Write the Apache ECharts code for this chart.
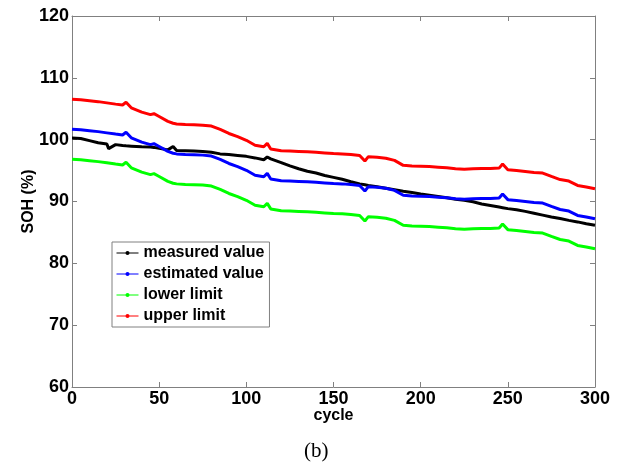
<!DOCTYPE html>
<html>
<head>
<meta charset="utf-8">
<script src="https://cdn.jsdelivr.net/npm/echarts@6/dist/echarts.min.js"></script>
<style>
  html, body { margin: 0; padding: 0; background: #fff; }
  #chart { width: 624px; height: 464px; }
</style>
</head>
<body>
<div id="chart"></div>
<script>
// Cycle numbers at which SOH was sampled
const cycles = [0,5,10,15,20,21,25,29,31,34,40,45,47,50,55,58,60,65,70,75,80,85,90,95,100,105,110,112,114,120,125,130,135,140,145,150,155,160,165,168,170,175,180,185,190,195,200,205,210,215,220,225,230,235,240,245,247,250,255,260,265,270,275,280,285,290,295,300];

// Measured SOH (%)
const measured = [100.25,100.2,99.85,99.5,99.3,98.55,99.2,99.05,99.0,98.95,98.85,98.8,98.75,98.6,98.35,98.9,98.25,98.2,98.15,98.1,97.95,97.7,97.6,97.45,97.3,97.05,96.75,97.2,96.9,96.3,95.75,95.3,94.9,94.6,94.2,93.9,93.6,93.2,92.85,92.7,92.6,92.4,92.15,91.9,91.65,91.45,91.2,91.0,90.8,90.6,90.35,90.2,89.95,89.6,89.35,89.1,89.0,88.85,88.65,88.4,88.1,87.8,87.5,87.25,86.95,86.7,86.4,86.15];

// Estimated SOH (%)
const estimated = [101.7,101.6,101.45,101.3,101.1,101.05,100.9,100.75,101.2,100.3,99.6,99.2,99.35,98.9,98.1,97.8,97.7,97.6,97.55,97.5,97.35,96.8,96.15,95.65,95.05,94.25,94.0,94.55,93.65,93.35,93.3,93.25,93.2,93.1,93.0,92.9,92.85,92.75,92.6,91.7,92.4,92.3,92.15,91.8,91.0,90.9,90.85,90.8,90.7,90.6,90.45,90.35,90.45,90.5,90.5,90.55,91.2,90.3,90.15,90.0,89.85,89.75,89.2,88.7,88.45,87.75,87.5,87.2];

// Lower bound of the estimate (%)
const lowerLimit = [96.85,96.75,96.6,96.45,96.25,96.2,96.05,95.9,96.35,95.45,94.75,94.35,94.5,94.05,93.25,92.95,92.85,92.75,92.7,92.65,92.5,91.95,91.3,90.8,90.2,89.4,89.15,89.7,88.8,88.5,88.45,88.4,88.35,88.25,88.15,88.05,88.0,87.9,87.75,86.85,87.55,87.45,87.3,86.95,86.15,86.05,86.0,85.95,85.85,85.75,85.6,85.5,85.6,85.65,85.65,85.7,86.35,85.45,85.3,85.15,85.0,84.9,84.35,83.85,83.6,82.9,82.65,82.35];

// Upper bound of the estimate (%)
const upperLimit = [106.55,106.45,106.3,106.15,105.95,105.9,105.75,105.6,106.05,105.15,104.45,104.05,104.2,103.75,102.95,102.65,102.55,102.45,102.4,102.35,102.2,101.65,101.0,100.5,99.9,99.1,98.85,99.4,98.5,98.2,98.15,98.1,98.05,97.95,97.85,97.75,97.7,97.6,97.45,96.55,97.25,97.15,97.0,96.65,95.85,95.75,95.7,95.65,95.55,95.45,95.3,95.2,95.3,95.35,95.35,95.4,96.05,95.15,95.0,94.85,94.7,94.6,94.05,93.55,93.3,92.6,92.35,92.05];

const seriesNames = ['measured value', 'estimated value', 'lower limit', 'upper limit'];
const seriesColors = ['#000000', '#0000ff', '#00ff00', '#ff0000'];
const seriesValues = [measured, estimated, lowerLimit, upperLimit];

const xTicks = { min: 0, max: 300, interval: 50 };
const yTicks = { min: 60, max: 120, interval: 10 };

const sans = 'Liberation Sans, Arial, sans-serif';
const frameColor = '#808080';

const chart = echarts.init(document.getElementById('chart'), null, { renderer: 'canvas' });

const baseAxis = {
  axisLine: { show: true, onZero: false, lineStyle: { color: frameColor, width: 1 } },
  axisTick: { show: true, inside: true, length: 5, lineStyle: { color: frameColor } },
  splitLine: { show: false }
};

chart.setOption({
  animation: false,
  backgroundColor: '#ffffff',
  grid: { left: 72, right: 29, top: 16, bottom: 77, containLabel: false },
  title: {
    text: '(b)',
    left: 299, top: 436,
    textStyle: { fontFamily: 'Liberation Serif, Times New Roman, serif', fontSize: 21, fontWeight: 'normal', color: '#000' }
  },
  legend: {
    orient: 'vertical',
    left: 112, top: 242,
    data: seriesNames,
    backgroundColor: '#fff',
    borderColor: frameColor,
    borderWidth: 1,
    padding: [2, 5, 2, 4],
    itemGap: 3,
    itemWidth: 22,
    itemHeight: 5,
    itemTextGap: 2,
    lineStyle: { width: 1 },
    textStyle: { fontFamily: sans, fontSize: 16, fontWeight: 'bold', lineHeight: 18, color: '#000' }
  },
  xAxis: [
    Object.assign({}, baseAxis, {
      type: 'value', position: 'bottom',
      min: xTicks.min, max: xTicks.max, interval: xTicks.interval,
      name: 'cycle', nameLocation: 'middle', nameGap: 21, nameMoveOverlap: false,
      nameTextStyle: { fontFamily: sans, fontSize: 16, fontWeight: 'bold', color: '#000' },
      axisLabel: { margin: 3, fontFamily: sans, fontSize: 18, fontWeight: 'bold', color: '#000' }
    }),
    Object.assign({}, baseAxis, {
      type: 'value', position: 'top',
      min: xTicks.min, max: xTicks.max, interval: xTicks.interval,
      axisLabel: { show: false }
    })
  ],
  yAxis: [
    Object.assign({}, baseAxis, {
      type: 'value', position: 'left',
      min: yTicks.min, max: yTicks.max, interval: yTicks.interval,
      name: 'SOH (%)', nameLocation: 'middle', nameGap: 35, nameMoveOverlap: false,
      nameTextStyle: { fontFamily: sans, fontSize: 16, fontWeight: 'bold', color: '#000' },
      axisLabel: { margin: 3, fontFamily: sans, fontSize: 18, fontWeight: 'bold', color: '#000' }
    }),
    Object.assign({}, baseAxis, {
      type: 'value', position: 'right',
      min: yTicks.min, max: yTicks.max, interval: yTicks.interval,
      axisLabel: { show: false }
    })
  ],
  series: seriesNames.map((name, k) => ({
    name: name,
    type: 'line',
    xAxisIndex: 0,
    yAxisIndex: 0,
    symbol: 'circle',
    showSymbol: false,
    color: seriesColors[k],
    lineStyle: { width: 3, color: seriesColors[k] },
    itemStyle: { color: seriesColors[k] },
    data: cycles.map((c, i) => [c, seriesValues[k][i]])
  }))
});
</script>
</body>
</html>
